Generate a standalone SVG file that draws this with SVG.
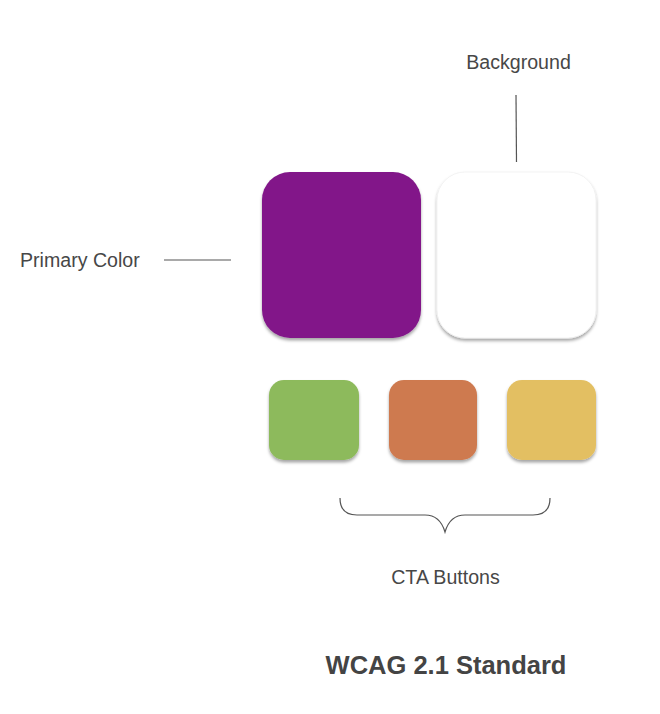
<svg xmlns="http://www.w3.org/2000/svg" width="660" height="714" viewBox="0 0 660 714">
<defs>
<style>
text{font-family:"Liberation Sans",Arial,sans-serif;fill:#474747}
.lbl{font-size:19.6px}
.title{font-size:25.5px;font-weight:bold;fill:#444}
.ln{stroke:#555;stroke-width:1.2;fill:none}
.sw{filter:url(#sh)}
</style>
<filter id="sh" x="-20%" y="-20%" width="140%" height="150%">
<feDropShadow dx="0" dy="2.5" stdDeviation="1.6" flood-color="#000" flood-opacity="0.35"/>
</filter>
</defs>
<rect width="660" height="714" fill="#fff"/>
<g id="primary"><rect class="sw" x="262" y="172" width="159" height="166" rx="28" fill="#821889"/></g>
<g id="background"><rect class="sw" x="437" y="172" width="159" height="166" rx="28" fill="#fff" stroke="#f0f0f0" stroke-width="0.8"/></g>
<g id="cta-green"><rect class="sw" x="269" y="380" width="90" height="80" rx="15" fill="#8dba5b"/></g>
<g id="cta-orange"><rect class="sw" x="389" y="380" width="88" height="80" rx="15" fill="#ce7a50"/></g>
<g id="cta-yellow"><rect class="sw" x="507" y="380" width="89" height="80" rx="15" fill="#e3bf62"/></g>
<g id="connectors">
<line class="ln" x1="164" y1="260" x2="231" y2="260"/>
<line class="ln" x1="516" y1="95" x2="516.5" y2="162"/>
<path class="ln" d="M340 498 Q340 515 357 515 L425 515 Q440 515 445 532 Q450 515 465 515 L533 515 Q550 515 550 498"/>
</g>
<g id="labels">
<text class="lbl" x="20" y="267">Primary Color</text>
<text class="lbl" x="518.5" y="69" text-anchor="middle">Background</text>
<text class="lbl" x="445.5" y="584" text-anchor="middle">CTA Buttons</text>
<text class="title" x="446" y="674" text-anchor="middle">WCAG 2.1 Standard</text>
</g>
</svg>
